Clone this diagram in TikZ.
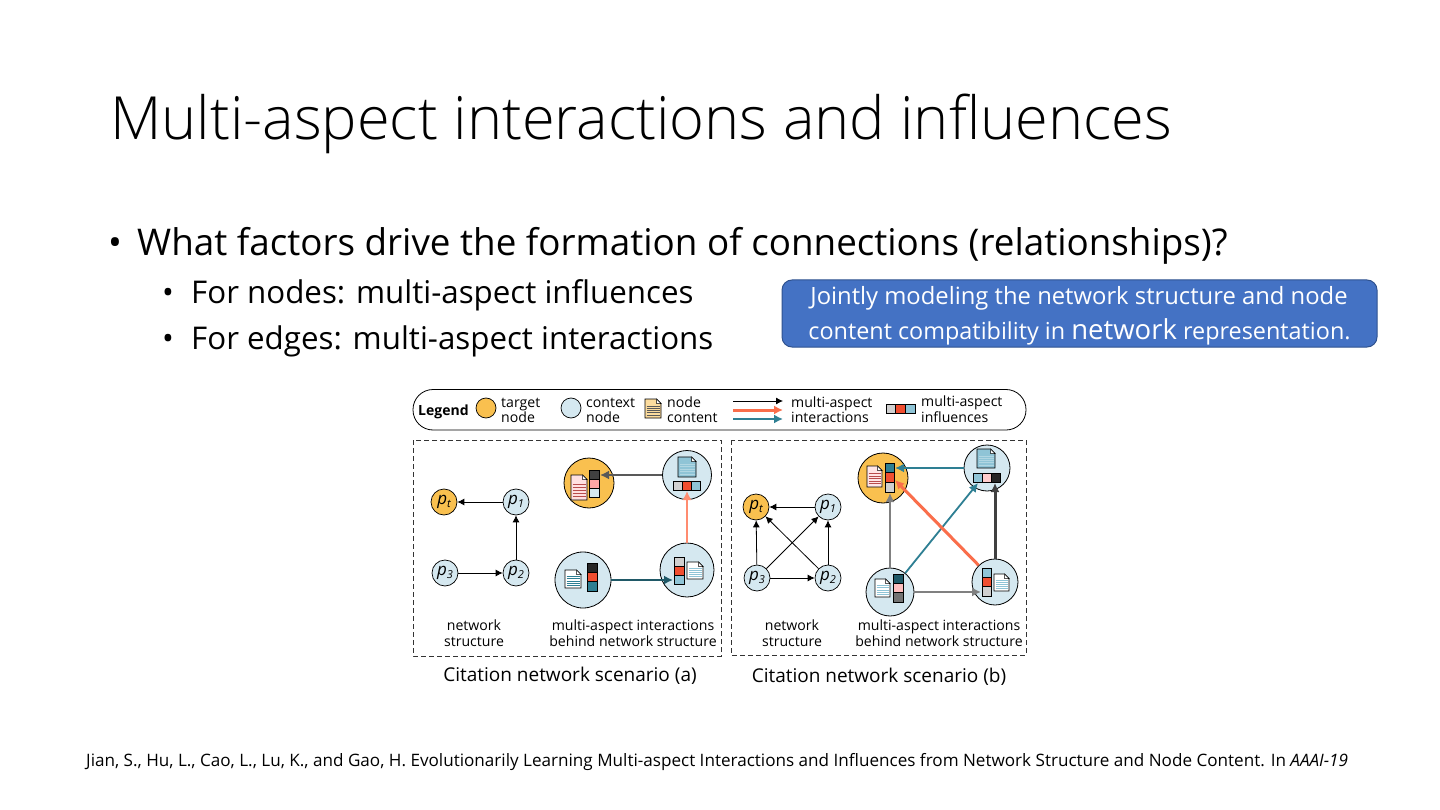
\documentclass[tikz,border=0pt]{standalone}
\usepackage{fontspec}
\setmainfont{Open Sans}
\setsansfont{Open Sans}
\newfontfamily\lightfont{Open Sans Light}
\usetikzlibrary{arrows.meta}
\definecolor{tgt}{HTML}{F9C04F}
\definecolor{ctx}{HTML}{D5E8F0}
\definecolor{cred}{HTML}{F04E30}
\definecolor{carrow}{HTML}{FA6E4B}
\definecolor{csalmon}{HTML}{FF8C70}
\definecolor{cgrey}{HTML}{D0D0D0}
\definecolor{cblue}{HTML}{8FC4D6}
\definecolor{cteal}{HTML}{2E7F93}
\definecolor{boxblue}{HTML}{4472C4}
\definecolor{boxedge}{HTML}{2F528F}
\newcommand{\fs}[1]{\fontsize{#1}{#1}\selectfont}
\newcommand{\pl}[1]{{\fs{17}\itshape p\raisebox{-2.5pt}{\fs{11}#1}}}
% doc icon: x1 y1 x2 y2 fill stripe
\newcommand{\docicon}[6]{%
  \pgfmathsetmacro{\dx}{#3-4.5}\pgfmathsetmacro{\dy}{#2+4.5}%
  \draw[black,line width=.7pt,fill=#5] (#1,#2) -- (\dx,#2) -- (#3,\dy) -- (#3,#4) -- (#1,#4) -- cycle;
  \draw[black,line width=.5pt,fill=white] (\dx,#2) -- (\dx,\dy) -- (#3,\dy) -- cycle;
  \foreach \k in {0.36,0.48,0.60,0.72,0.84}{%
    \pgfmathsetmacro{\ya}{#2+\k*(#4-#2)}\pgfmathsetmacro{\xa}{#1+1.5}\pgfmathsetmacro{\xb}{#3-1.5}%
    \draw[#6,line width=.55pt] (\xa,\ya) -- (\xb,\ya);}%
}
% vertical bar
\newcommand{\vertbar}[7]{%
  \pgfmathsetmacro{\ya}{#2+(#4-#2)/3}\pgfmathsetmacro{\yb}{#2+2*(#4-#2)/3}%
  \fill[#5] (#1,#2) rectangle (#3,\ya);
  \fill[#6] (#1,\ya) rectangle (#3,\yb);
  \fill[#7] (#1,\yb) rectangle (#3,#4);
  \draw[black,line width=.7pt] (#1,#2) rectangle (#3,#4) (#1,\ya) -- (#3,\ya) (#1,\yb) -- (#3,\yb);
}
% horizontal bar
\newcommand{\horbar}[7]{%
  \pgfmathsetmacro{\xa}{#1+(#3-#1)/3}\pgfmathsetmacro{\xb}{#1+2*(#3-#1)/3}%
  \fill[#5] (#1,#2) rectangle (\xa,#4);
  \fill[#6] (\xa,#2) rectangle (\xb,#4);
  \fill[#7] (\xb,#2) rectangle (#3,#4);
  \draw[black,line width=.7pt] (#1,#2) rectangle (#3,#4) (\xa,#2) -- (\xa,#4) (\xb,#2) -- (\xb,#4);
}
\tikzset{
  lefttxt/.style={anchor=base west,inner sep=0pt,text=black},
  smalltxt/.style={inner sep=0pt,text=black,align=center,font=\fs{14.1}},
  legendtxt/.style={anchor=base west,inner sep=0pt,align=left,font=\fs{14.1}},
  dashbox/.style={draw=black!80,line width=.8pt,dash pattern=on 5pt off 3pt},
  smallnode/.style={circle,draw=black,line width=.7pt,minimum size=26pt,inner sep=0pt},
  smalltgt/.style={smallnode,fill=tgt},
  smallctx/.style={smallnode,fill=ctx},
  bigtgt/.style={circle,draw=black,line width=.8pt,fill=tgt,inner sep=0pt},
  bigctx/.style={circle,draw=black,line width=.8pt,fill=ctx,inner sep=0pt},
  netarrow/.style={-{Latex[length=7pt,width=7pt]},line width=.8pt,black},
  aarrow/.style={-{Latex[length=9pt,width=9pt]},line width=#1},
  aarrow/.default=2pt
}
\begin{document}
\begin{tikzpicture}[x=1pt,y=-1pt]
\useasboundingbox (0,0) rectangle (1440,810);
\fill[white] (0,0) rectangle (1440,810);
% Title and bullets
\node[lefttxt,font=\lightfont\fs{59.5}] (title) at (110,140) {Multi-aspect interactions and influences};
\node[lefttxt,font=\fs{36.8}] (b0) at (108,255.5) {•};
\node[lefttxt,font=\fs{36.8}] (b1) at (137,255.5) {What factors drive the formation of connections (relationships)?};
\node[lefttxt,font=\fs{31.3}] (b2a) at (162,303) {•};
\node[lefttxt,font=\fs{31.3}] (b2) at (191,303) {For nodes: multi-aspect influences};
\node[lefttxt,font=\fs{31.3}] (b3a) at (162,349) {•};
\node[lefttxt,font=\fs{31.3}] (b3) at (191,349) {For edges: multi-aspect interactions};
% Blue box
\draw[rounded corners=10pt,fill=boxblue,draw=boxedge,line width=1pt] (782,280) rectangle (1377,347);
\node[inner sep=0pt,text=white,font=\fs{23.8},anchor=base] (bt1) at (1079,305) {Jointly modeling the network structure and node};
\node[inner sep=0pt,text=white,font=\fs{23.4},anchor=base] (bt2) at (1079.5,339) {content compatibility in {\fs{27.5}network} representation.};
% Footer
\node[lefttxt,font=\fs{17.1}] (foot) at (86,766) {Jian, S., Hu, L., Cao, L., Lu, K., and Gao, H. Evolutionarily Learning Multi-aspect Interactions and Influences from Network Structure and Node Content. In \textit{AAAI-19}};
% Legend
\draw[line width=.8pt,rounded corners=20pt] (413,389.5) rectangle (1026,430);
\node[lefttxt,font=\bfseries\fs{14}] (lg) at (418,415) {Legend};
\node[circle,draw=black,line width=.7pt,fill=tgt,minimum size=20pt,inner sep=0pt] (ltgt) at (486,408) {};
\node[legendtxt] (lt1) at (501,422.5) {target\\[0.5pt]node};
\node[circle,draw=black,line width=.7pt,fill=ctx,minimum size=20pt,inner sep=0pt] (lctx) at (571,408) {};
\node[legendtxt] (lt2) at (586,422.5) {context\\[0.5pt]node};
\docicon{645}{399}{661}{418}{tgt!55}{black!65}
\node[legendtxt] (lt3) at (667,422.5) {node\\[0.5pt]content};
\coordinate (la1) at (733,401); \coordinate (la1e) at (783,401);
\coordinate (la2) at (733,410); \coordinate (la2e) at (783,410);
\coordinate (la3) at (733,419); \coordinate (la3e) at (783,419);
\draw[netarrow] (la1) -- (la1e);
\draw[aarrow=3pt,color=carrow] (la2) -- (la2e);
\draw[aarrow=1.8pt,color=cteal] (la3) -- (la3e);
\node[legendtxt] (lt4) at (791,422.5) {multi-aspect\\[0.5pt]interactions};
\horbar{886}{404}{915}{413}{cgrey}{cred}{cblue}
\node[legendtxt] (lt5) at (921,422.5) {multi-aspect\\[0.5pt]influences};
% Dashed boxes
\draw[dashbox] (413,440) rectangle (721,656);
\draw[dashbox] (731,440) rectangle (1026,655);
% Scenario a, network
\node[smalltgt] (apt) at (444,502) {\pl{t}};
\node[smallctx] (ap1) at (516,502) {\pl{1}};
\node[smallctx] (ap3) at (445,573) {\pl{3}};
\node[smallctx] (ap2) at (516,573) {\pl{2}};
\draw[netarrow] (ap1) -- (apt);
\draw[netarrow] (ap2) -- (ap1);
\draw[netarrow] (ap3) -- (ap2);
% Scenario a, aspects
\node[bigtgt,minimum size=50pt] (atgt) at (589,483) {};
\node[bigctx,minimum size=49pt] (atr) at (687,475) {};
\node[bigctx,minimum size=56pt] (abl) at (583,580) {};
\node[bigctx,minimum size=54pt] (abr) at (687,570) {};
\coordinate (ae1) at (600,475);
\coordinate (ae2) at (687,491);
\coordinate (ae3) at (673,580);
\draw[aarrow=2.2pt,color=black!65] (atr) -- (ae1);
\draw[aarrow=1.6pt,color=csalmon] (abr) -- (ae2);
\draw[aarrow=2.8pt,color=cteal!70!black] (abl) -- (ae3);
\docicon{571}{475}{587}{500}{red!12!white}{red!60!black!70}
\vertbar{589}{470}{599}{497}{black!75}{red!35!white}{ctx}
\docicon{678}{457}{696}{477}{cblue}{cblue!70!white}
\horbar{673}{481}{700}{490}{cgrey}{cred}{cblue}
\docicon{565}{570}{581}{588}{white}{cteal}
\vertbar{587}{563}{597}{591}{black!85}{cred}{cteal}
\vertbar{674}{557}{684}{584}{cgrey}{cred}{cblue}
\docicon{687}{562}{703}{579}{white}{cblue}
\node[smalltxt] (at1) at (474,633) {network\\[1.5pt]structure};
\node[smalltxt] (at2) at (633,633) {multi-aspect interactions\\[1.5pt]behind network structure};
\node[inner sep=0pt,font=\fs{19}] (cap1) at (570,675.5) {Citation network scenario (a)};
% Scenario b, network
\node[smalltgt] (bpt) at (756,507) {\pl{t}};
\node[smallctx] (bp1) at (828,507) {\pl{1}};
\node[smallctx] (bp3) at (757,578) {\pl{3}};
\node[smallctx] (bp2) at (828,578) {\pl{2}};
\draw[netarrow] (bp1) -- (bpt);
\draw[netarrow] (bp3) -- (bpt);
\draw[netarrow] (bp2) -- (bp1);
\draw[netarrow] (bp3) -- (bp2);
\draw[netarrow] (bp3) -- (bp1);
\draw[netarrow] (bp2) -- (bpt);
% Scenario b, aspects
\node[bigtgt,minimum size=50pt] (btgt) at (883,478) {};
\node[bigctx,minimum size=46pt] (btr) at (987,468) {};
\node[bigctx,minimum size=48pt] (bbl) at (890,592) {};
\node[bigctx,minimum size=46pt] (bbr) at (995,582) {};
\coordinate (be1) at (895,468);
\coordinate (be2) at (978,483);
\coordinate (be3) at (895,480);
\coordinate (be4) at (890,493);
\coordinate (be5) at (995,483);
\coordinate (be6) at (981,592);
\draw[aarrow=2pt,color=black!50] (bbl) -- (be4);
\draw[aarrow=2pt,color=black!50] (bbl.east) -- (be6);
\draw[aarrow=3pt,color=black!75] (bbr) -- (be5);
\draw[aarrow=2.5pt,color=cteal] (btr) -- (be1);
\draw[aarrow=1.8pt,color=cteal] (bbl) -- (be2);
\draw[aarrow=3pt,color=carrow] (bbr) -- (be3);
\docicon{867}{466}{882}{487}{red!10!white}{red!60!black!70}
\vertbar{885}{463}{894}{492}{cteal}{cred}{cgrey}
\docicon{977}{449}{995}{468}{cblue}{cblue!70!white}
\horbar{973}{473}{1000}{482}{cblue}{red!20!white}{black!85}
\docicon{875}{579}{890}{597}{white}{cblue}
\vertbar{893}{574}{903}{602}{cteal!70!black}{red!25!white}{black!55}
\vertbar{982}{568}{991}{596}{cblue}{cred}{cgrey}
\docicon{994}{574}{1009}{591}{white}{cblue}
\node[smalltxt] (bt3) at (792,633) {network\\[1.5pt]structure};
\node[smalltxt] (bt4) at (939,633) {multi-aspect interactions\\[1.5pt]behind network structure};
\node[inner sep=0pt,font=\fs{19}] (cap2) at (879,676.5) {Citation network scenario (b)};
\end{tikzpicture}
\end{document}
